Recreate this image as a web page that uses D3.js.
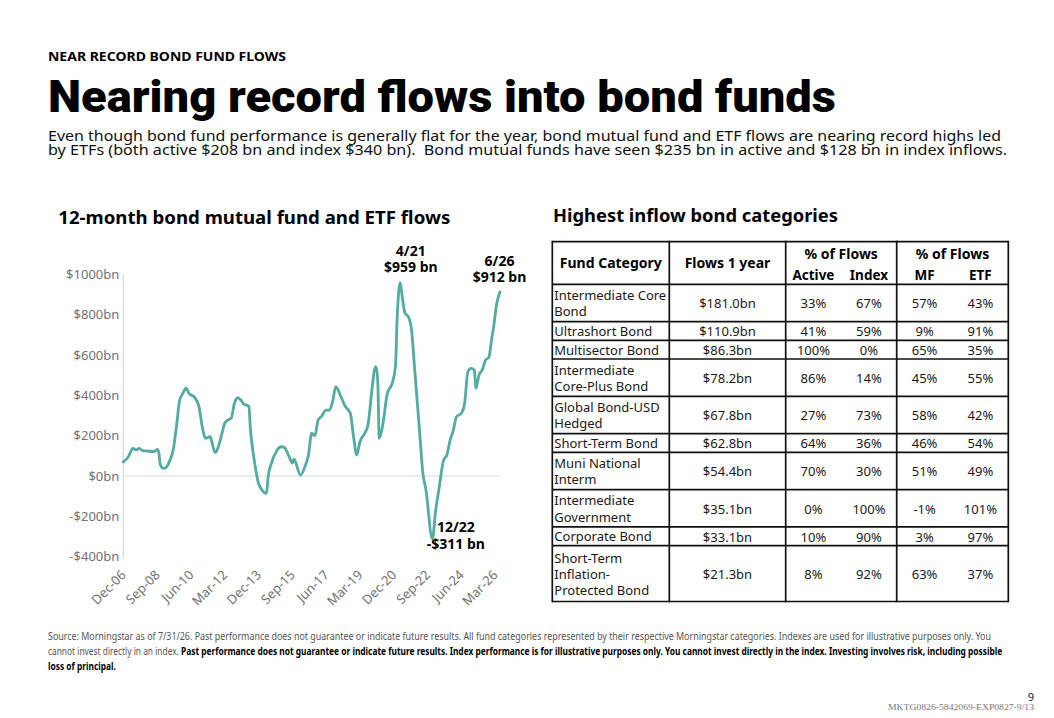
<!DOCTYPE html>
<html>
<head>
<meta charset="utf-8">
<script src="https://cdn.jsdelivr.net/npm/d3@7"></script>
<style>
  html, body { margin: 0; padding: 0; background: #ffffff; }
  svg { display: block; }
</style>
</head>
<body>
<div id="chart"></div>
<script>
// ---------------- DATA ----------------
const flowMonths = [
  "2006-12","2007-03","2007-06","2007-08","2007-10","2007-12","2008-03","2008-07","2008-09","2008-10",
  "2008-11","2009-01","2009-03","2009-05","2009-07","2009-09","2009-11","2010-01","2010-03","2010-05",
  "2010-08","2010-11","2011-01","2011-03","2011-06","2011-07","2011-09","2011-10","2012-01","2012-03",
  "2012-05","2012-07","2012-09","2012-11","2013-01","2013-03","2013-05","2013-06","2013-07","2013-09",
  "2013-12","2014-02","2014-05","2014-06","2014-08","2014-11","2015-02","2015-04","2015-07","2015-09",
  "2015-10","2016-02","2016-05","2016-07","2016-09","2016-11","2017-01","2017-03","2017-06","2017-08",
  "2017-10","2017-12","2018-03","2018-06","2018-09","2018-11","2019-01","2019-03","2019-06","2019-08",
  "2019-10","2019-12","2020-01","2020-02","2020-03","2020-05","2020-08","2020-11","2021-01","2021-02",
  "2021-04","2021-05","2021-07","2021-09","2021-11","2022-01","2022-04","2022-06","2022-08","2022-12",
  "2023-02","2023-04","2023-07","2023-09","2023-11","2024-01","2024-03","2024-06","2024-08","2024-10",
  "2024-12","2025-02","2025-03","2025-05","2025-07","2025-09","2025-11","2026-01","2026-02","2026-04",
  "2026-06"
];
const flowValues = [
  70, 93, 137, 129, 137, 126, 124, 121, 132, 118,
  55, 38, 46, 79, 129, 245, 377, 410, 435, 407,
  393, 344, 245, 187, 195, 170, 116, 124, 203, 261,
  278, 286, 360, 388, 377, 355, 350, 345, 230, 96,
  -36, -69, -86, -3, 63, 121, 145, 142, 96, 64,
  83, 5, 50, 104, 212, 200, 278, 294, 327, 327,
  368, 443, 397, 344, 311, 195, 104, 170, 212, 253,
  393, 526, 542, 476, 187, 245, 410, 460, 542, 773,
  959, 906, 807, 790, 724, 526, 228, 21, -69, -311,
  -169, -69, 79, 104, 178, 228, 294, 311, 360, 517,
  534, 526, 435, 501, 526, 575, 588, 691, 740, 856,
  912
];
const yTickValues = [-400, -200, 0, 200, 400, 600, 800, 1000];
const xTickLabels = ["Dec-06","Sep-08","Jun-10","Mar-12","Dec-13","Sep-15","Jun-17","Mar-19","Dec-20","Sep-22","Jun-24","Mar-26"];
const annotations = [
  { month: "2021-04", value: 959, date: "4/21", label: "$959 bn" },
  { month: "2026-06", value: 912, date: "6/26", label: "$912 bn" },
  { month: "2022-12", value: -311, date: "12/22", label: "-$311 bn" }
];

// table data
const categories = [
  "Intermediate Core\nBond", "Ultrashort Bond", "Multisector Bond", "Intermediate\nCore-Plus Bond",
  "Global Bond-USD\nHedged", "Short-Term Bond", "Muni National\nInterm", "Intermediate\nGovernment",
  "Corporate Bond", "Short-Term\nInflation-\nProtected Bond"
];
const flows1y = [181.0, 110.9, 86.3, 78.2, 67.8, 62.8, 54.4, 35.1, 33.1, 21.3];
const activePct = [33, 41, 100, 86, 27, 64, 70, 0, 10, 8];
const indexPct  = [67, 59, 0, 14, 73, 36, 30, 100, 90, 92];
const mfPct     = [57, 9, 65, 45, 58, 46, 51, -1, 3, 63];
const etfPct    = [43, 91, 35, 55, 42, 54, 49, 101, 97, 37];

// ---------------- DRAW ----------------
const W = 1054, H = 718;
const svg = d3.select("#chart").append("svg").attr("width", W).attr("height", H);
const SANS = "'Noto Sans', 'Open Sans', sans-serif";
const parseM = d3.timeParse("%Y-%m");
const parseTick = d3.timeParse("%b-%y");

// Header texts
svg.append("text").attr("x", 48).attr("y", 60.7)
  .attr("font-family", SANS).attr("font-weight", 700).attr("font-size", 12.5)
  .attr("textLength", 238).attr("lengthAdjust", "spacingAndGlyphs")
  .attr("fill", "#000").text("NEAR RECORD BOND FUND FLOWS");

svg.append("text").attr("x", 48).attr("y", 111.5)
  .attr("font-family", "Roboto, 'Noto Sans', sans-serif").attr("font-weight", 900).attr("font-size", 44)
  .attr("textLength", 788).attr("lengthAdjust", "spacingAndGlyphs")
  .attr("fill", "#000").text("Nearing record flows into bond funds");

const sub = [
  { t: "Even though bond fund performance is generally flat for the year, bond mutual fund and ETF flows are nearing record highs led", w: 953, y: 141 },
  { t: "by ETFs (both active $208 bn and index $340 bn).  Bond mutual funds have seen $235 bn in active and $128 bn in index inflows.", w: 959, y: 155 }
];
sub.forEach(s => svg.append("text").attr("x", 48).attr("y", s.y)
  .attr("font-family", SANS).attr("font-size", 14).attr("fill", "#111")
  .attr("textLength", s.w).attr("lengthAdjust", "spacingAndGlyphs")
  .attr("xml:space", "preserve").style("white-space", "pre").text(s.t));

svg.append("text").attr("x", 58.3).attr("y", 224)
  .attr("font-family", SANS).attr("font-weight", 700).attr("font-size", 17.5)
  .attr("textLength", 392).attr("lengthAdjust", "spacingAndGlyphs")
  .attr("fill", "#000").text("12-month bond mutual fund and ETF flows");

svg.append("text").attr("x", 553).attr("y", 222)
  .attr("font-family", SANS).attr("font-weight", 700).attr("font-size", 17.5)
  .attr("textLength", 285).attr("lengthAdjust", "spacingAndGlyphs")
  .attr("fill", "#000").text("Highest inflow bond categories");

// ---------------- LINE CHART ----------------
const data = flowMonths.map((m, i) => ({ date: parseM(m), value: flowValues[i] }));
const x = d3.scaleTime().domain([parseM("2006-12"), parseM("2026-06")]).range([123.3, 500]);
const y = d3.scaleLinear().domain([-400, 1000]).range([556.7, 274.3]);

// y axis
const yAxis = d3.axisLeft(y).tickValues(yTickValues).tickSize(0).tickPadding(4)
  .tickFormat(d => (d < 0 ? "-" : "") + "$" + Math.abs(d) + "bn");
const gy = svg.append("g").attr("transform", "translate(123.3,0)").call(yAxis);
gy.select(".domain").attr("stroke", "#d9d9d9").attr("stroke-width", 1.2)
  .attr("d", `M0,${y(1000)}V${y(-400) + 1.5}`);
gy.selectAll("text").attr("font-family", SANS).attr("font-size", 13).attr("fill", "#737373");

// zero line
svg.append("line").attr("x1", x.range()[0]).attr("x2", x.range()[1])
  .attr("y1", y(0)).attr("y2", y(0)).attr("stroke", "#dcdcdc").attr("stroke-width", 1.2);

// x axis
const xAxis = d3.axisBottom(x).tickValues(xTickLabels.map(parseTick)).tickSize(0)
  .tickFormat(d3.timeFormat("%b-%y"));
const gx = svg.append("g").attr("transform", `translate(0,${y(-400)})`).call(xAxis);
gx.select(".domain").remove();
gx.selectAll("text")
  .attr("font-family", SANS).attr("font-size", 13).attr("fill", "#737373")
  .attr("text-anchor", "end").attr("y", 0).attr("dy", 0)
  .attr("transform", "translate(3,19) rotate(-45)");

// line
const line = d3.line().x(d => x(d.date)).y(d => y(d.value)).curve(d3.curveMonotoneX);
svg.append("path").datum(data).attr("d", line)
  .attr("fill", "none").attr("stroke", "#52aca0").attr("stroke-width", 2.8)
  .attr("stroke-linejoin", "round").attr("stroke-linecap", "round");

// annotations
const annOffsets = [
  { anchor: "middle", dx: 10.6, dy1: -27, dx2: 10.6, dy2: -11 },
  { anchor: "middle", dx: -0.5, dy1: -26.5, dx2: -0.5, dy2: -10.3 },
  { anchor: "start", dx: 4.5, dy1: -6.3, dx2: -5.6, dy2: 10.6 }
];
annotations.forEach((a, i) => {
  const px = x(parseM(a.month)), py = y(a.value), o = annOffsets[i];
  svg.append("text").attr("x", px + o.dx).attr("y", py + o.dy1)
    .attr("text-anchor", o.anchor).attr("font-family", SANS).attr("font-weight", 700)
    .attr("font-size", 14).attr("fill", "#000").text(a.date);
  svg.append("text").attr("x", px + o.dx2).attr("y", py + o.dy2)
    .attr("text-anchor", o.anchor).attr("font-family", SANS).attr("font-weight", 700)
    .attr("font-size", 14).attr("fill", "#000").text(a.label);
});

// ---------------- TABLE ----------------
const colX = [552.3, 669.3, 785.7, 896.7, 1008.3];
const headTop = 241.7, headBot = 284.3;
const lineH = 18.6;
const rows = categories.map((c, i) => ({
  lines: c.split("\n"), flow: flows1y[i],
  vals: [activePct[i], indexPct[i], mfPct[i], etfPct[i]]
}));
let yy = headBot;
rows.forEach(r => { r.top = yy; r.h = r.lines.length * lineH + 0.1; yy += r.h; r.bot = yy; });
const tableBottom = yy;
const T = svg.append("g");

const hdr = (t, cx, by, fs) => T.append("text").attr("x", cx).attr("y", by)
  .attr("text-anchor", "middle").attr("font-family", SANS).attr("font-weight", 700)
  .attr("font-size", fs).attr("fill", "#000").text(t);
const q = (c, k) => colX[c] + (colX[c + 1] - colX[c]) * k;
hdr("Fund Category", (colX[0] + colX[1]) / 2, 268.3, 14);
hdr("Flows 1 year", (colX[1] + colX[2]) / 2, 268.3, 14);
hdr("% of Flows", (colX[2] + colX[3]) / 2, 259, 14);
hdr("% of Flows", (colX[3] + colX[4]) / 2, 259, 14);
hdr("Active", q(2, 0.25), 280, 13.5);
hdr("Index", q(2, 0.75), 280, 13.5);
hdr("MF", q(3, 0.25), 280, 13.5);
hdr("ETF", q(3, 0.75), 280, 13.5);

const cellTxt = (t, cx, by, anchor) => T.append("text").attr("x", cx).attr("y", by)
  .attr("text-anchor", anchor).attr("font-family", SANS).attr("font-size", 13)
  .attr("fill", "#1a1a1a").text(t);
rows.forEach(r => {
  const mid = (r.top + r.bot) / 2;
  const first = mid - (r.lines.length - 1) * 16.2 / 2 + 5.2;
  r.lines.forEach((ln, j) => cellTxt(ln, colX[0] + 2, first + j * 16.2, "start"));
  cellTxt("$" + r.flow.toFixed(1) + "bn", (colX[1] + colX[2]) / 2, mid + 5.5, "middle");
  const cx = [q(2, 0.25), q(2, 0.75), q(3, 0.25), q(3, 0.75)];
  r.vals.forEach((v, k) => cellTxt(v + "%", cx[k], mid + 5.5, "middle"));
});

const stroke = "#111", sw = 1.7;
const hline = (yv) => T.append("line").attr("x1", colX[0]).attr("x2", colX[4])
  .attr("y1", yv).attr("y2", yv).attr("stroke", stroke).attr("stroke-width", sw);
hline(headTop); hline(headBot);
rows.forEach(r => hline(r.bot));
colX.forEach(cx => T.append("line").attr("x1", cx).attr("x2", cx)
  .attr("y1", headTop - sw / 2).attr("y2", tableBottom + sw / 2)
  .attr("stroke", stroke).attr("stroke-width", sw));

// ---------------- FOOTNOTE ----------------
const FN = "'Noto Sans', sans-serif";
const FS = 10.5;
// one text per line, squeezed horizontally with a transform to fit the target width
function fitLine(segments, x0, x1, yb) {
  const t = svg.append("text").attr("x", 0).attr("y", 0)
    .attr("font-family", FN).attr("font-size", FS)
    .attr("xml:space", "preserve").style("white-space", "pre");
  segments.forEach((s, i) => t.append("tspan").attr("font-weight", s.weight).attr("fill", s.fill)
    .text((i > 0 ? " " : "") + s.text));
  const w = t.node().getComputedTextLength();
  const sx = (x1 - x0) / w;
  t.attr("transform", `translate(${x0},${yb}) scale(${sx},1)`);
}
fitLine([{ text: "Source: Morningstar as of 7/31/26. Past performance does not guarantee or indicate future results. All fund categories represented by their respective Morningstar categories. Indexes are used for illustrative purposes only. You", weight: 400, fill: "#555" }], 48, 993, 640);
fitLine([
  { text: "cannot invest directly in an index.", weight: 400, fill: "#555" },
  { text: "Past performance does not guarantee or indicate future results. Index performance is for illustrative purposes only. You cannot invest directly in the index. Investing involves risk, including possible", weight: 700, fill: "#000" }
], 48, 1003, 655);
fitLine([{ text: "loss of principal.", weight: 700, fill: "#000" }], 48, 116, 670);

svg.append("text").attr("x", 1034).attr("y", 701).attr("text-anchor", "end")
  .attr("font-family", SANS).attr("font-size", 11).attr("fill", "#222").text("9");
svg.append("text").attr("x", 888).attr("y", 710)
  .attr("font-family", "'Liberation Serif', serif").attr("font-size", 8.5).attr("fill", "#777")
  .attr("textLength", 146).attr("lengthAdjust", "spacingAndGlyphs")
  .text("MKTG0826-5842069-EXP0827-9/13");
</script>
</body>
</html>
